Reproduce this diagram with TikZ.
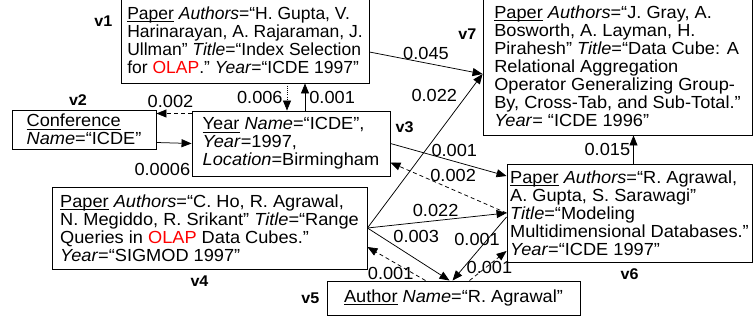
\documentclass[tikz,border=0pt]{standalone}
\usepackage{fontspec}
\setmainfont{Liberation Sans}[FakeStretch=1.04]
\newfontfamily\narrowsans{Liberation Sans}
\usetikzlibrary{arrows.meta, positioning}

% entity name with a low underline
\newcommand{\ent}[1]{\setbox0=\hbox{#1}\rlap{\rule[-2.8pt]{\wd0}{0.9pt}}#1}

\begin{document}
\begin{tikzpicture}[
		x=1pt, y=-1pt,
		box/.style={rectangle, draw, line width=0.9pt, align=left, inner sep=0pt, font=\fontsize{17.5}{18}\selectfont},
		arrow/.style={-{Triangle[length=10pt, width=8pt]}, line width=0.75pt},
		back/.style={arrow, dash pattern=on 4pt off 3pt},
		num/.style={font=\fontsize{17.5}{18}\selectfont, inner sep=1pt},
		tag/.style={font=\fontsize{15.5}{16}\selectfont\bfseries, inner sep=0pt}
		]
		\useasboundingbox (0,0) rectangle (753,320);

		\node[box, minimum width=248pt, minimum height=86pt, font=\narrowsans\fontsize{17.5}{18}\selectfont] (v1) at (245,40)
			{\ent{Paper} \textit{Authors}=“H. Gupta, V.\\Harinarayan, A. Rajaraman, J.\\Ullman” \textit{Title}=“Index Selection\\for \textcolor{red}{OLAP}.” \textit{Year}=“ICDE 1997”};
		\node[box, minimum width=269pt, minimum height=138pt] (v7) at (617.5,66)
			{\ent{Paper} \textit{Authors}=“J. Gray, A.\\Bosworth, A. Layman, H.\\Pirahesh” \textit{Title}=“Data Cube: A\\Relational Aggregation\\Operator Generalizing Group-\\By, Cross-Tab, and Sub-Total.”\\\textit{Year}= “ICDE 1996”};
		\node[box, minimum width=144pt, minimum height=39pt] (v2) at (84,129.5)
			{\ent{Conference}\\\textit{Name}=“ICDE”};
		\node[box, minimum width=198pt, minimum height=65pt] (v3) at (291,143.5)
			{\ent{Year} \textit{Name}=“ICDE”,\\\textit{Year}=1997,\\\textit{Location}=Birmingham};
		\node[box, minimum width=315pt, minimum height=82pt] (v4) at (209.5,228)
			{\ent{Paper} \textit{Authors}=“C. Ho, R. Agrawal,\\N. Megiddo, R. Srikant” \textit{Title}=“Range\\Queries in \textcolor{red}{OLAP} Data Cubes.”\\\textit{Year}=“SIGMOD 1997”};
		\node[box, minimum width=253pt, minimum height=34pt] (v5) at (453.5,298)
			{\ent{Author} \textit{Name}=“R. Agrawal”};
		\node[box, minimum width=245pt, minimum height=98pt] (v6) at (629.5,213)
			{\ent{Paper} \textit{Authors}=“R. Agrawal,\\A. Gupta, S. Sarawagi”\\\textit{Title}=“Modeling\\Multidimensional Databases.”\\\textit{Year}=“ICDE 1997”};

		\node[tag, left=8pt of v1.north west, yshift=-25pt] (t1) {v1};
		\node[tag, above=4pt of v2.north, xshift=-6pt] (t2) {v2};
		\node[tag, right=5pt of v3.north east, yshift=-17pt] (t3) {v3};
		\node[tag, below=6pt of v4.south, xshift=-10pt] (t4) {v4};
		\node[tag, left=7pt of v5.west] (t5) {v5};
		\node[tag, below=6pt of v6.south] (t6) {v6};
		\node[tag, left=6pt of v7.north west, yshift=-38pt] (t7) {v7};

		\draw[arrow] ([yshift=-12pt]v1.east) -- node[num, above=2pt]{0.045} ([yshift=-8pt]v7.west);
		\draw[arrow] (v4.east) -- node[num, pos=0.86, left=8pt]{0.022} ([yshift=-8pt]v7.west);
		\draw[arrow] (v3.east) -- node[num, pos=0.55, above=3pt]{0.001} ([yshift=37pt]v6.west);
		\draw[back] (v6.west) -- node[num, pos=0.46, above=7pt]{0.002} ([yshift=-19pt]v3.east);
		\draw[arrow] (v4.east) -- node[num, pos=0.49, above=3pt]{0.022} (v6.west);
		\draw[arrow] (v4.east) -- node[num, pos=0.3, anchor=south west]{0.003} ([xshift=-4pt]v5.north);
		\draw[back] ([xshift=-28pt]v5.north) -- node[num, pos=0.6, below=5pt]{0.001} ([yshift=-19pt]v4.east);
		\draw[arrow] ([yshift=-4pt]v6.west) -- node[num, pos=0.36, xshift=-10pt]{0.001} ([xshift=-1pt]v5.north);
		\draw[back] ([xshift=16pt]v5.north) -- node[num, pos=0.43, xshift=4pt]{0.001} ([yshift=-38pt]v6.west);
		\draw[arrow] ([xshift=4pt]v6.north) -- node[num, left=2pt]{0.015} ([xshift=16pt]v7.south);
		\draw[arrow, dash pattern=on 1pt off 1.2pt] ([xshift=42pt]v1.south) -- node[num, left=3pt]{0.006} ([xshift=-4pt]v3.north);
		\draw[arrow] ([xshift=14pt]v3.north) -- node[num, right=3pt]{0.001} ([xshift=60pt]v1.south);
		\draw[back] ([yshift=30pt]v3.west) -- node[num, pos=0.6, above=4pt]{0.002} ([yshift=16pt]v2.east);
		\draw[arrow] ([yshift=-13pt]v2.east) -- node[num, pos=1, anchor=north east, yshift=-18pt]{0.0006} (v3.west);
	\end{tikzpicture}
\end{document}
